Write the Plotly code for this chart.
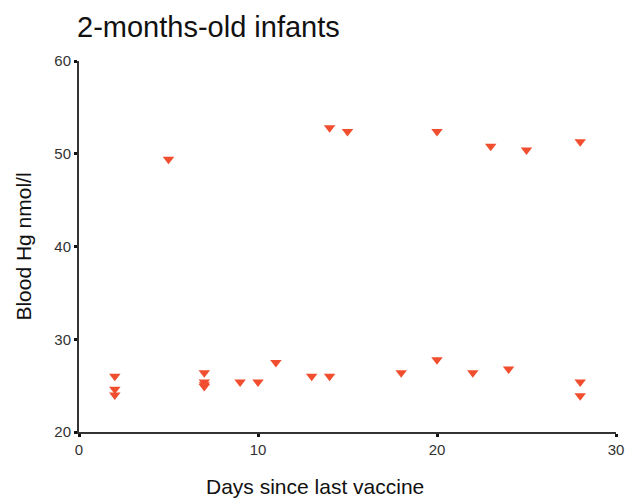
import plotly.graph_objects as go

days = [2, 2, 2, 5, 7, 7, 7, 7, 9, 10, 11, 13, 14, 14, 15, 18, 20, 20, 22, 23, 24, 25, 28, 28, 28]
blood_hg = [26.0, 24.6, 24.0, 49.4, 26.4, 25.4, 25.1, 24.9, 25.4, 25.4, 27.5, 26.0, 26.0, 52.8, 52.4,
            26.4, 27.8, 52.4, 26.4, 50.8, 26.8, 50.4, 51.3, 25.4, 23.9]

x_ticks = [0, 10, 20, 30]
y_ticks = [20, 30, 40, 50, 60]

fig = go.Figure(go.Scatter(
    x=days, y=blood_hg, mode="markers",
    marker=dict(symbol="triangle-down", size=10, color="#F04E2E"),
    cliponaxis=False,
))

font = "Liberation Sans, Arial, sans-serif"
fig.update_layout(
    width=635, height=500,
    margin=dict(l=71, r=27, t=53, b=76),
    paper_bgcolor="white", plot_bgcolor="white",
    showlegend=False,
    font=dict(family=font, color="#222"),
    title=dict(text="2-months-old infants", x=0.1087, xanchor="left", y=0.962, yanchor="middle",
               font=dict(size=29, family=font, color="#111")),
    annotations=[dict(text="Days since last vaccine", xref="paper", yref="paper",
                      x=0.4395, y=-0.148, xanchor="center", yanchor="middle", showarrow=False,
                      font=dict(size=21, color="#111", family=font))],
)
fig.update_xaxes(
    range=[0, 30], tickvals=x_ticks, showgrid=False, zeroline=False,
    showline=True, linecolor="#333", linewidth=2,
    ticks="outside", ticklen=3, tickwidth=3, tickcolor="#111",
    tickfont=dict(size=15, color="#333"),
    automargin=False,
)
fig.update_yaxes(
    range=[20, 60], tickvals=y_ticks, showgrid=False, zeroline=False,
    showline=True, linecolor="#333", linewidth=2,
    ticks="outside", ticklen=3, tickwidth=3, tickcolor="#111",
    tickfont=dict(size=15, color="#333"),
    automargin=False,
    title=dict(text="Blood Hg nmol/l", font=dict(size=21, color="#111"), standoff=17),
)
fig.write_html("out.html")
